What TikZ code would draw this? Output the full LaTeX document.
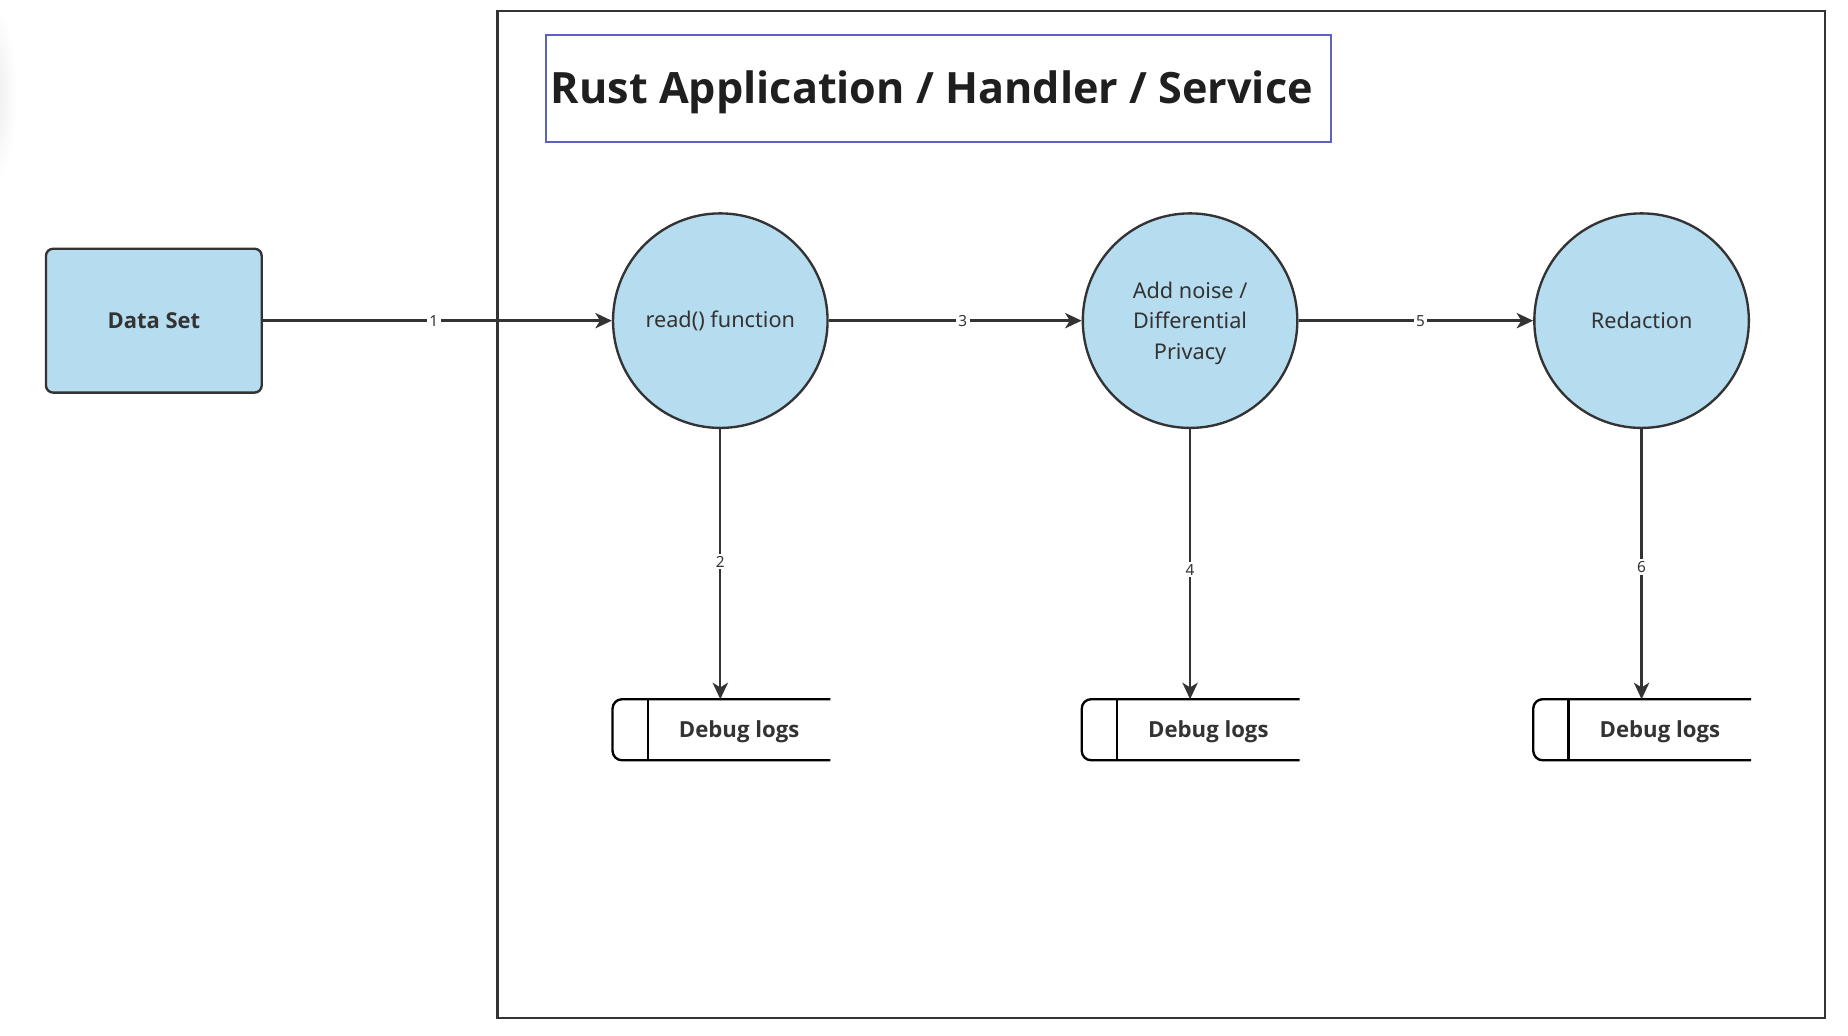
\documentclass[tikz,border=0pt]{standalone}
\usepackage{fontspec}
\setmainfont{Noto Sans}
\newfontfamily\boldfam{Open Sans}
\usetikzlibrary{arrows.meta,calc}
\definecolor{fillblue}{HTML}{B6DCEF}
\definecolor{stroke}{HTML}{333333}
\definecolor{titleblue}{HTML}{5B62C2}
\tikzset{
  proc/.style={circle,draw=stroke,fill=fillblue,line width=1pt,minimum size=91pt,inner sep=0pt,
    font=\fontsize{9.2pt}{13pt}\selectfont,text=stroke,align=center},
  proctext/.style={font=\fontsize{9.2pt}{13pt}\selectfont,text=stroke,align=center,inner sep=0pt},
  entity/.style={rectangle,rounded corners=3pt,draw=stroke,fill=fillblue,line width=1pt,
    minimum width=91.5pt,minimum height=61pt,font=\boldfam\bfseries\fontsize{9.3pt}{11pt}\selectfont,text=stroke},
  storebox/.style={rectangle,draw=none,minimum width=92pt,minimum height=25.5pt,inner sep=0pt},
  storetext/.style={font=\boldfam\bfseries\fontsize{9.4pt}{11pt}\selectfont,text=stroke,inner sep=0pt},
  flow/.style={draw=stroke,line width=1pt,-{Stealth[length=7pt,width=6.5pt,inset=2pt]}},
  num/.style={fill=white,font=\fontsize{6.5pt}{7pt}\selectfont,text=stroke,inner sep=1pt},
  frame/.style={draw=stroke,line width=1pt},
}
\newcommand{\drawstore}[1]{%
  \draw[stroke,line width=1pt,rounded corners=4pt] (#1.north east) -- (#1.north west) -- (#1.south west) -- (#1.south east);
  \draw[stroke,line width=1pt] ($(#1.north west)+(15pt,0)$) -- ($(#1.south west)+(15pt,0)$);
}
\begin{document}
\begin{tikzpicture}[x=0.5pt,y=-0.5pt]
\useasboundingbox (0,0) rectangle (1567.6,878.8);
\fill[white] (0,0) rectangle (1567.6,878.8);
% faint shadow at left edge
\shade[inner color=black!7,outer color=white] (-4,80) ellipse (18 and 75);
% outer frame
\node[frame,rectangle,minimum width=563pt,minimum height=427pt,inner sep=0pt] (app) at (985,436.5) {};
% title
\node[draw=titleblue,line width=1pt,minimum width=333pt,minimum height=45.5pt,inner sep=0pt] (title) at (796,75) {};
\node[font=\boldfam\bfseries\fontsize{18.3pt}{21pt}\selectfont,text=black!88,inner sep=0pt] (titletext) at (790.5,78.5) {Rust Application / Handler / Service};
% entity
\node[entity] (ds) at (130.5,272) {Data Set};
% processes
\node[proc] (p1) at (611,272) {read() function};
\node[proc] (p2) at (1009.5,272) {};
\node[proctext] (p2t) at (1009.5,274) {Add noise /\\Differential\\Privacy};
\node[proc] (p3) at (1392.5,272) {Redaction};
% stores
\node[storebox] (s1) at (612,619) {};
\node[storebox] (s2) at (1010,619) {};
\node[storebox] (s3) at (1393,619) {};
\drawstore{s1}\drawstore{s2}\drawstore{s3}
\node[storetext] (t1) at (627,621) {Debug logs};
\node[storetext] (t2) at (1025,621) {Debug logs};
\node[storetext] (t3) at (1408,621) {Debug logs};
% flows
\draw[flow] (ds.east) -- node[num,pos=0.49] {1} (p1.west);
\draw[flow] (p1.east) -- node[num,pos=0.53] {3} (p2.west);
\draw[flow] (p2.east) -- node[num,pos=0.52] {5} (p3.west);
\draw[flow] (p1.south) -- node[num,pos=0.49] {2} (p1.south |- s1.north);
\draw[flow] (p2.south) -- node[num,pos=0.52] {4} (p2.south |- s2.north);
\draw[flow] (p3.south) -- node[num,pos=0.51] {6} (p3.south |- s3.north);
\end{tikzpicture}
\end{document}
